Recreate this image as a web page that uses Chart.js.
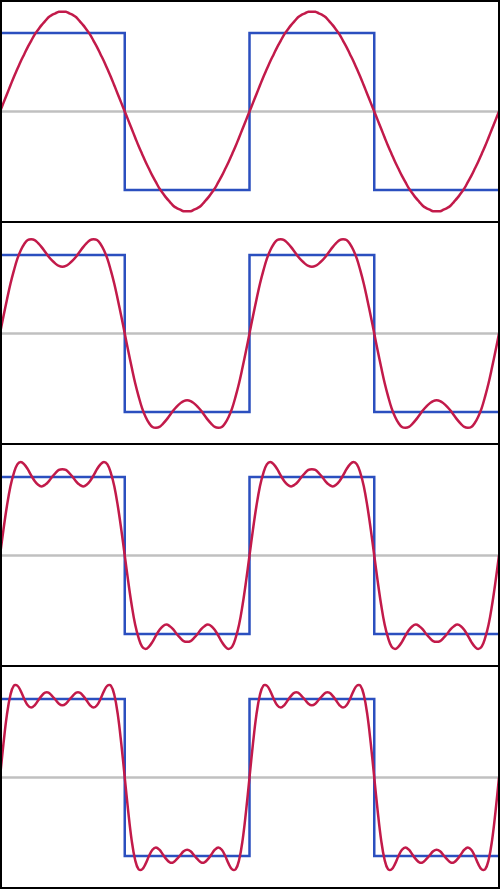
<!DOCTYPE html>
<html>
<head>
<meta charset="utf-8">
<script src="https://cdn.jsdelivr.net/npm/chart.js@4"></script>
<style>
  body { margin: 0; background: #fff; }
  #wrap { position: relative; width: 500px; height: 890px; }
  canvas { position: absolute; left: 0; }
  .frame { position: absolute; left: 0; top: 0; width: 500px; height: 889px; border: 2px solid #000; box-sizing: border-box; }
  .sep { position: absolute; left: 0; width: 500px; height: 2px; background: #000; }
</style>
</head>
<body>
<div id="wrap">
  <canvas id="c0" width="499" height="223" style="top:0px"></canvas>
  <canvas id="c1" width="499" height="223" style="top:222px"></canvas>
  <canvas id="c2" width="499" height="223" style="top:444px"></canvas>
  <canvas id="c3" width="499" height="223" style="top:666px"></canvas>
  <div class="frame"></div>
  <div class="sep" style="top:221px"></div>
  <div class="sep" style="top:443px"></div>
  <div class="sep" style="top:665px"></div>
</div>
<script>
// angle in degrees, 0..720 (two periods of the square wave)
const angles = [
  0,5,10,15,20,25,30,35,40,45,50,55,60,65,70,75,80,85,90,95,100,105,110,115,120,125,130,135,140,145,150,155,160,165,170,175,180,
  185,190,195,200,205,210,215,220,225,230,235,240,245,250,255,260,265,270,275,280,285,290,295,300,305,310,315,320,325,330,335,340,345,350,355,360,
  365,370,375,380,385,390,395,400,405,410,415,420,425,430,435,440,445,450,455,460,465,470,475,480,485,490,495,500,505,510,515,520,525,530,535,540,
  545,550,555,560,565,570,575,580,585,590,595,600,605,610,615,620,625,630,635,640,645,650,655,660,665,670,675,680,685,690,695,700,705,710,715,720
];

// square wave
const squareX = [0, 180, 180, 360, 360, 540, 540, 720];
const squareY = [1, 1, -1, -1, 1, 1, -1, -1];

// zero line
const zeroX = [0, 720];
const zeroY = [0, 0];

// partial sums: 1, 2, 3, 4 terms
const sum1 = [0,
  0.11,0.22,0.33,0.44,0.54,0.64,0.73,0.82,0.90,0.98,1.04,1.10,1.15,1.20,1.23,1.25,1.27,1.27,1.27,1.25,1.23,1.20,1.15,1.10,1.04,0.98,0.90,0.82,0.73,0.64,0.54,0.44,0.33,0.22,0.11,0,
  -0.11,-0.22,-0.33,-0.44,-0.54,-0.64,-0.73,-0.82,-0.90,-0.98,-1.04,-1.10,-1.15,-1.20,-1.23,-1.25,-1.27,-1.27,-1.27,-1.25,-1.23,-1.20,-1.15,-1.10,-1.04,-0.98,-0.90,-0.82,-0.73,-0.64,-0.54,-0.44,-0.33,-0.22,-0.11,0,
  0.11,0.22,0.33,0.44,0.54,0.64,0.73,0.82,0.90,0.98,1.04,1.10,1.15,1.20,1.23,1.25,1.27,1.27,1.27,1.25,1.23,1.20,1.15,1.10,1.04,0.98,0.90,0.82,0.73,0.64,0.54,0.44,0.33,0.22,0.11,0,
  -0.11,-0.22,-0.33,-0.44,-0.54,-0.64,-0.73,-0.82,-0.90,-0.98,-1.04,-1.10,-1.15,-1.20,-1.23,-1.25,-1.27,-1.27,-1.27,-1.25,-1.23,-1.20,-1.15,-1.10,-1.04,-0.98,-0.90,-0.82,-0.73,-0.64,-0.54,-0.44,-0.33,-0.22,-0.11,0
];
const sum2 = [0,
  0.22,0.43,0.63,0.80,0.95,1.06,1.14,1.19,1.20,1.19,1.15,1.10,1.04,0.98,0.93,0.89,0.86,0.85,0.86,0.89,0.93,0.98,1.04,1.10,1.15,1.19,1.20,1.19,1.14,1.06,0.95,0.80,0.63,0.43,0.22,0,
  -0.22,-0.43,-0.63,-0.80,-0.95,-1.06,-1.14,-1.19,-1.20,-1.19,-1.15,-1.10,-1.04,-0.98,-0.93,-0.89,-0.86,-0.85,-0.86,-0.89,-0.93,-0.98,-1.04,-1.10,-1.15,-1.19,-1.20,-1.19,-1.14,-1.06,-0.95,-0.80,-0.63,-0.43,-0.22,0,
  0.22,0.43,0.63,0.80,0.95,1.06,1.14,1.19,1.20,1.19,1.15,1.10,1.04,0.98,0.93,0.89,0.86,0.85,0.86,0.89,0.93,0.98,1.04,1.10,1.15,1.19,1.20,1.19,1.14,1.06,0.95,0.80,0.63,0.43,0.22,0,
  -0.22,-0.43,-0.63,-0.80,-0.95,-1.06,-1.14,-1.19,-1.20,-1.19,-1.15,-1.10,-1.04,-0.98,-0.93,-0.89,-0.86,-0.85,-0.86,-0.89,-0.93,-0.98,-1.04,-1.10,-1.15,-1.19,-1.20,-1.19,-1.14,-1.06,-0.95,-0.80,-0.63,-0.43,-0.22,0
];
const sum3 = [0,
  0.33,0.63,0.88,1.05,1.16,1.19,1.16,1.10,1.02,0.95,0.90,0.88,0.90,0.94,1.00,1.05,1.09,1.10,1.09,1.05,1.00,0.94,0.90,0.88,0.90,0.95,1.02,1.10,1.16,1.19,1.16,1.05,0.88,0.63,0.33,0,
  -0.33,-0.63,-0.88,-1.05,-1.16,-1.19,-1.16,-1.10,-1.02,-0.95,-0.90,-0.88,-0.90,-0.94,-1.00,-1.05,-1.09,-1.10,-1.09,-1.05,-1.00,-0.94,-0.90,-0.88,-0.90,-0.95,-1.02,-1.10,-1.16,-1.19,-1.16,-1.05,-0.88,-0.63,-0.33,0,
  0.33,0.63,0.88,1.05,1.16,1.19,1.16,1.10,1.02,0.95,0.90,0.88,0.90,0.94,1.00,1.05,1.09,1.10,1.09,1.05,1.00,0.94,0.90,0.88,0.90,0.95,1.02,1.10,1.16,1.19,1.16,1.05,0.88,0.63,0.33,0,
  -0.33,-0.63,-0.88,-1.05,-1.16,-1.19,-1.16,-1.10,-1.02,-0.95,-0.90,-0.88,-0.90,-0.94,-1.00,-1.05,-1.09,-1.10,-1.09,-1.05,-1.00,-0.94,-0.90,-0.88,-0.90,-0.95,-1.02,-1.10,-1.16,-1.19,-1.16,-1.05,-0.88,-0.63,-0.33,0
];
const sum4 = [0,
  0.43,0.80,1.05,1.17,1.17,1.10,1.00,0.92,0.89,0.92,0.98,1.04,1.08,1.08,1.04,0.99,0.94,0.92,0.94,0.99,1.04,1.08,1.08,1.04,0.98,0.92,0.89,0.92,1.00,1.10,1.17,1.17,1.05,0.80,0.43,0,
  -0.43,-0.80,-1.05,-1.17,-1.17,-1.10,-1.00,-0.92,-0.89,-0.92,-0.98,-1.04,-1.08,-1.08,-1.04,-0.99,-0.94,-0.92,-0.94,-0.99,-1.04,-1.08,-1.08,-1.04,-0.98,-0.92,-0.89,-0.92,-1.00,-1.10,-1.17,-1.17,-1.05,-0.80,-0.43,0,
  0.43,0.80,1.05,1.17,1.17,1.10,1.00,0.92,0.89,0.92,0.98,1.04,1.08,1.08,1.04,0.99,0.94,0.92,0.94,0.99,1.04,1.08,1.08,1.04,0.98,0.92,0.89,0.92,1.00,1.10,1.17,1.17,1.05,0.80,0.43,0,
  -0.43,-0.80,-1.05,-1.17,-1.17,-1.10,-1.00,-0.92,-0.89,-0.92,-0.98,-1.04,-1.08,-1.08,-1.04,-0.99,-0.94,-0.92,-0.94,-0.99,-1.04,-1.08,-1.08,-1.04,-0.98,-0.92,-0.89,-0.92,-1.00,-1.10,-1.17,-1.17,-1.05,-0.80,-0.43,0
];

const sums = [sum1, sum2, sum3, sum4];

const toPoints = (xs, ys) => xs.map((x, i) => ({ x: x, y: ys[i] }));

sums.forEach((vals, k) => {
  new Chart(document.getElementById('c' + k), {
    type: 'line',
    data: {
      datasets: [
        {
          data: toPoints(angles, vals),
          borderColor: '#c21a4a',
          borderWidth: 2.5,
          tension: 0.4,
          pointRadius: 0
        },
        {
          data: toPoints(squareX, squareY),
          borderColor: '#2b4fbf',
          borderWidth: 2.5,
          tension: 0,
          pointRadius: 0
        },
        {
          data: toPoints(zeroX, zeroY),
          borderColor: '#c0c0c0',
          borderWidth: 2.5,
          pointRadius: 0
        }
      ]
    },
    options: {
      responsive: false,
      animation: false,
      events: [],
      layout: { padding: 0 },
      plugins: { legend: { display: false }, tooltip: { enabled: false } },
      scales: {
        x: { type: 'linear', display: false, min: 0, max: 720 },
        y: { display: false, min: -1.42, max: 1.42 }
      }
    }
  });
});
</script>
</body>
</html>
